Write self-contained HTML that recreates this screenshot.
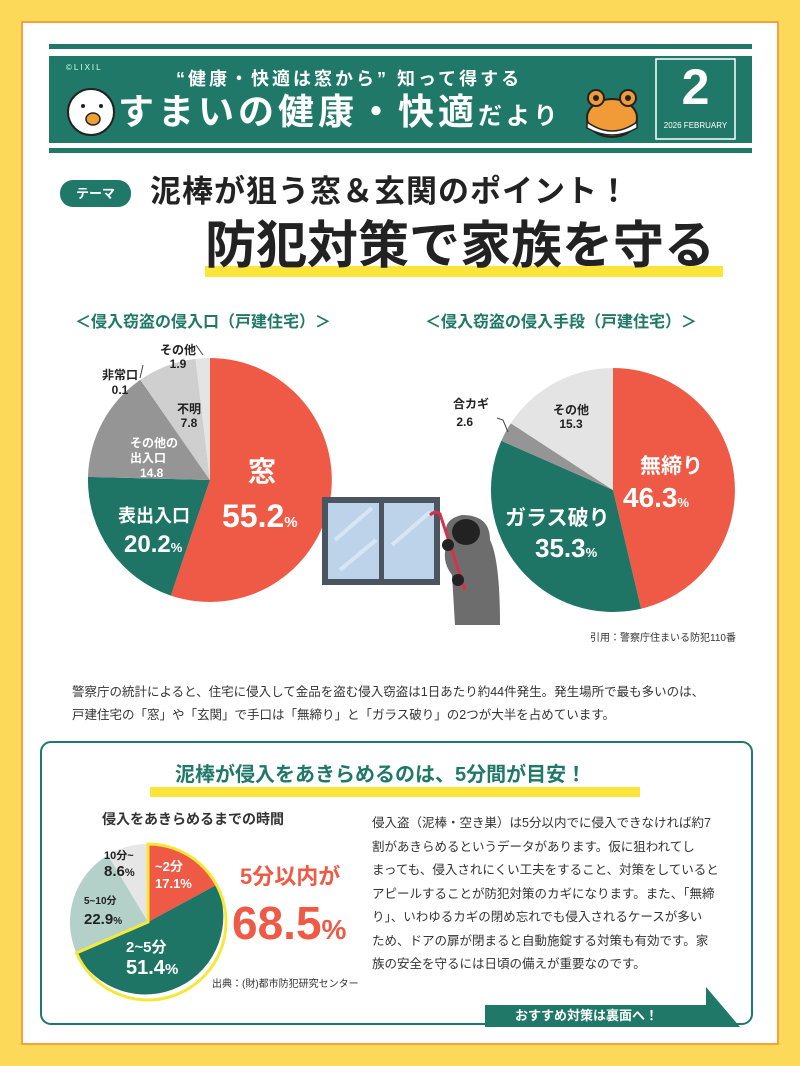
<!DOCTYPE html>
<html><head><meta charset="utf-8"><style>
*{margin:0;padding:0;box-sizing:border-box}
body{width:800px;height:1066px;background:#fdd95a;position:relative;overflow:hidden;font-family:"Liberation Sans","Noto Sans CJK JP",sans-serif}
.t{position:absolute;white-space:nowrap;line-height:1}
.b{font-weight:bold}
</style></head><body>
<div style="position:absolute;left:21px;top:21px;width:758px;height:1024px;background:#fff;border:2px solid #f2a43a"></div>
<svg style="position:absolute;left:0;top:0" width="800" height="1066">
<rect x="49" y="44" width="703" height="5" fill="#1f7868"/>
<rect x="49" y="56" width="703" height="87" fill="#1f7868"/>
<rect x="49" y="148" width="703" height="5" fill="#1f7868"/>
<rect x="656" y="59" width="79" height="80" fill="none" stroke="#fff" stroke-width="1.5"/>
<circle cx="91" cy="112" r="23" fill="#fff" stroke="#222" stroke-width="2"/>
<circle cx="83" cy="106" r="2" fill="#222"/><circle cx="101" cy="106" r="2" fill="#222"/>
<ellipse cx="93" cy="119" rx="7" ry="6" fill="#f0a030" stroke="#222" stroke-width="1.5"/>
<ellipse cx="612" cy="118" rx="25" ry="19" fill="#f19a38" stroke="#222" stroke-width="2"/>
<circle cx="596" cy="98" r="8" fill="#f19a38" stroke="#222" stroke-width="2"/>
<circle cx="628" cy="98" r="8" fill="#f19a38" stroke="#222" stroke-width="2"/>
<circle cx="596" cy="98" r="3" fill="#222"/><circle cx="628" cy="98" r="3" fill="#222"/>
<path d="M587,122 Q612,140 637,122 L637,128 Q612,142 587,128Z" fill="#fff" stroke="#222" stroke-width="1.5"/>
<rect x="60" y="180" width="71" height="27" rx="13" fill="#1f7868"/>
<rect x="205" y="266" width="518" height="11" fill="#fbe53a"/>
<path d="M210,480 L210,358 A122,122 0 1 1 170.8,595.6Z" fill="#ef5a46"/>
<path d="M210,480 L170.8,595.6 A122,122 0 0 1 88,476.9Z" fill="#1f7565"/>
<path d="M210,480 L88,476.9 A122,122 0 0 1 139.5,380.4Z" fill="#959595"/>
<path d="M210,480 L139.5,380.4 A122,122 0 0 1 140.2,380Z" fill="#777"/>
<path d="M210,480 L140.2,380 A122,122 0 0 1 195.5,358.9Z" fill="#cfcfcf"/>
<path d="M210,480 L195.5,358.9 A122,122 0 0 1 210,358Z" fill="#e4e4e4"/>
<path d="M143,365 L140,378 M196,345 L203,355" stroke="#444" fill="none"/>
<path d="M613,490 L613,368 A122,122 0 0 1 641.1,608.7Z" fill="#ef5a46"/>
<path d="M613,490 L641.1,608.7 A122,122 0 0 1 501.3,440.8Z" fill="#1f7565"/>
<path d="M613,490 L501.3,440.8 A122,122 0 0 1 510.8,423.3Z" fill="#959595"/>
<path d="M613,490 L510.8,423.3 A122,122 0 0 1 613,368Z" fill="#e4e4e4"/>
<path d="M497,418 L503,420 L508,432" stroke="#444" fill="none"/>
<rect x="322" y="497" width="118" height="88" fill="#4b5560"/>
<rect x="328" y="503" width="51" height="76" fill="#bcd3ea"/>
<rect x="384" y="503" width="50" height="76" fill="#bcd3ea"/>
<path d="M335,540 L372,508 M340,570 L376,540 M392,545 L430,512" stroke="#d8e6f4" stroke-width="4"/>
<path d="M455,625 L452,575 Q440,560 448,540 Q440,520 462,515 Q490,515 490,540 Q500,560 500,625Z" fill="#6d6d6d"/>
<ellipse cx="466" cy="532" rx="14" ry="13" fill="#222"/>
<path d="M430,515 Q436,510 440,514 L465,590" stroke="#d9304a" stroke-width="3" fill="none"/>
<circle cx="448" cy="545" r="6" fill="#222"/><circle cx="458" cy="580" r="6" fill="#222"/>
<rect x="41" y="742" width="711" height="282" rx="10" fill="none" stroke="#1f7868" stroke-width="2"/>
<rect x="150" y="787" width="490" height="10" fill="#fbe53a"/>
<path d="M148,922 L148,844 A78,78 0 0 1 216.6,884.8Z" fill="#ef5a46"/>
<path d="M148,922 L216.6,884.8 A78,78 0 0 1 76.4,953Z" fill="#1f7565"/>
<path d="M148,922 L76.4,953 A78,78 0 0 1 107.9,855.1Z" fill="#b3d0c9"/>
<path d="M148,922 L107.9,855.1 A78,78 0 0 1 148,844Z" fill="#e6e6e6"/>
<path d="M148,844 A78,78 0 1 1 76.4,953 L148,922Z" fill="none" stroke="#f6e83a" stroke-width="3"/>
<path d="M485,1005 L706,1005 L706,987 L740,1027 L485,1027Z" fill="#1f7868"/>
</svg>
<div class="t" style="left:66px;top:64px;font-size:8px;color:#cfe;letter-spacing:2px">©LIXIL</div>
<div class="t b" style="left:176px;top:70px;font-size:18px;color:#fff;letter-spacing:3px">“健康・快適は窓から” 知って得する</div>
<div class="t b" style="left:118px;top:94px;font-size:36px;color:#fff;letter-spacing:4px">すまいの健康・快適<span style="font-size:24px">だより</span></div>
<div class="t b" style="left:656px;top:62px;width:79px;text-align:center;font-size:50px;color:#fff">2</div>
<div class="t" style="left:656px;top:122px;width:79px;text-align:center;font-size:8px;color:#fff">2026 FEBRUARY</div>
<div class="t b" style="left:60px;top:187px;width:71px;text-align:center;font-size:13px;color:#fff">テーマ</div>
<div class="t b" style="left:150px;top:176px;font-size:31px;color:#222;letter-spacing:1px">泥棒が狙う窓＆玄関のポイント！</div>
<div class="t b" style="left:205px;top:220px;font-size:51px;color:#222">防犯対策で家族を守る</div>
<div class="t b" style="left:75px;top:315px;font-size:16px;color:#1f7868">＜侵入窃盗の侵入口（戸建住宅）＞</div>
<div class="t b" style="left:425px;top:315px;font-size:16px;color:#1f7868">＜侵入窃盗の侵入手段（戸建住宅）＞</div>
<div class="t b" style="left:160px;top:343px;font-size:12px;color:#222;text-align:center;line-height:14px">その他<br>1.9</div>
<div class="t b" style="left:102px;top:368px;font-size:12px;color:#222;text-align:center;line-height:15px">非常口<br>0.1</div>
<div class="t b" style="left:177px;top:402px;font-size:12px;color:#222;text-align:center;line-height:14px">不明<br>7.8</div>
<div class="t b" style="left:130px;top:436px;font-size:12px;color:#fff;line-height:15px">その他の<br>出入口<br>&nbsp;&nbsp;&nbsp;14.8</div>
<div class="t b" style="left:248px;top:458px;font-size:28px;color:#fff">窓</div>
<div class="t b" style="left:222px;top:500px;font-size:32px;color:#fff">55.2<span style="font-size:15px">%</span></div>
<div class="t b" style="left:118px;top:507px;font-size:18px;color:#fff">表出入口</div>
<div class="t b" style="left:124px;top:533px;font-size:24px;color:#fff">20.2<span style="font-size:13px">%</span></div>
<div class="t b" style="left:453px;top:395px;font-size:12px;color:#222;line-height:18px">合カギ<br>&nbsp;2.6</div>
<div class="t b" style="left:553px;top:403px;font-size:12px;color:#222;text-align:center;line-height:14px">その他<br>15.3</div>
<div class="t b" style="left:640px;top:456px;font-size:21px;color:#fff">無締り</div>
<div class="t b" style="left:623px;top:484px;font-size:28px;color:#fff">46.3<span style="font-size:13px">%</span></div>
<div class="t b" style="left:505px;top:508px;font-size:21px;color:#fff">ガラス破り</div>
<div class="t b" style="left:535px;top:535px;font-size:26px;color:#fff">35.3<span style="font-size:13px">%</span></div>
<div class="t" style="left:590px;top:634px;font-size:10px;color:#333">引用：警察庁住まいる防犯110番</div>
<div class="t" style="left:72px;top:681px;font-size:12.5px;color:#333;line-height:23px">警察庁の統計によると、住宅に侵入して金品を盗む侵入窃盗は1日あたり約44件発生。発生場所で最も多いのは、<br>戸建住宅の「窓」や「玄関」で手口は「無締り」と「ガラス破り」の2つが大半を占めています。</div>
<div class="t b" style="left:175px;top:765px;font-size:20px;color:#1f7868">泥棒が侵入をあきらめるのは、5分間が目安！</div>
<div class="t b" style="left:102px;top:812px;font-size:14px;color:#333">侵入をあきらめるまでの時間</div>
<div class="t b" style="left:104px;top:848px;font-size:11px;color:#222;line-height:16px">10分~<br><span style="font-size:15px">8.6</span>%</div>
<div class="t b" style="left:155px;top:858px;font-size:13px;color:#fff;line-height:17px">~2分<br>17.1%</div>
<div class="t b" style="left:84px;top:893px;font-size:10px;color:#222;line-height:18px">5~10分<br><span style="font-size:15px">22.9</span>%</div>
<div class="t b" style="left:126px;top:938px;font-size:15px;color:#fff;line-height:20px">2~5分<br><span style="font-size:20px">51.4</span>%</div>
<div class="t b" style="left:240px;top:866px;font-size:22px;color:#ef5a46">5分以内が</div>
<div class="t b" style="left:232px;top:900px;font-size:46px;color:#ef5a46">68.5<span style="font-size:28px">%</span></div>
<div class="t" style="left:212px;top:980px;font-size:10px;color:#333">出典：(財)都市防犯研究センター</div>
<div class="t" style="left:372px;top:812px;font-size:12.5px;color:#333;line-height:23.5px">侵入盗（泥棒・空き巣）は5分以内でに侵入できなければ約7<br>割があきらめるというデータがあります。仮に狙われてし<br>まっても、侵入されにくい工夫をすること、対策をしていると<br>アピールすることが防犯対策のカギになります。また、「無締<br>り」、いわゆるカギの閉め忘れでも侵入されるケースが多い<br>ため、ドアの扉が閉まると自動施錠する対策も有効です。家<br>族の安全を守るには日頃の備えが重要なのです。</div>
<div class="t b" style="left:515px;top:1009px;font-size:13px;color:#fff">おすすめ対策は裏面へ！</div>
</body></html>
